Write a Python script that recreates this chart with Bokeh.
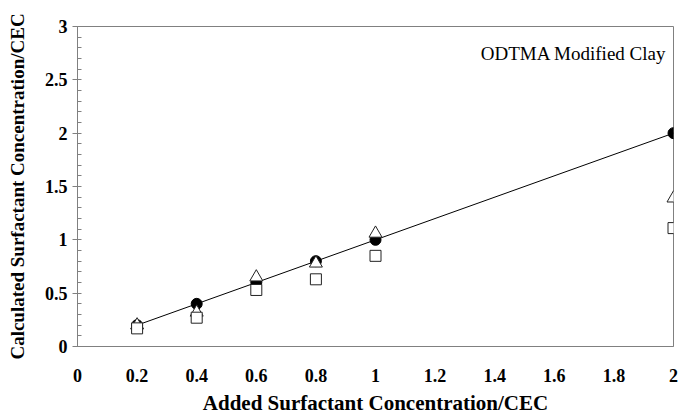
from bokeh.plotting import figure
from bokeh.models import Range1d, FixedTicker, Label
from bokeh.embed import file_html
from bokeh.resources import INLINE

# Data
x_added = [0.2, 0.4, 0.6, 0.8, 1.0, 2.0]
y_circle = [0.2, 0.4, 0.6, 0.8, 1.0, 2.0]
y_triangle = [0.2, 0.32, 0.65, 0.78, 1.06, 1.39]
y_square = [0.17, 0.27, 0.53, 0.63, 0.85, 1.11]

x_ticks = [0, 0.2, 0.4, 0.6, 0.8, 1.0, 1.2, 1.4, 1.6, 1.8, 2.0]
x_tick_labels = ["0", "0.2", "0.4", "0.6", "0.8", "1", "1.2", "1.4", "1.6", "1.8", "2"]
y_ticks = [0, 0.5, 1.0, 1.5, 2.0, 2.5, 3.0]
y_tick_labels = ["0", "0.5", "1", "1.5", "2", "2.5", "3"]
y_minor = [i / 10 for i in range(0, 31)]

FONT = "Liberation Serif"
AXIS_GRAY = "#808080"

p = figure(width=678, height=417, output_backend="svg", toolbar_location=None,
           x_range=Range1d(0, 2), y_range=Range1d(0, 3),
           min_border_left=77, min_border_right=5, min_border_top=26,
           min_border_bottom=71)

p.background_fill_color = "white"
p.border_fill_color = "white"
p.outline_line_color = AXIS_GRAY
p.outline_line_width = 1
p.xgrid.visible = False
p.ygrid.visible = False

# x axis
xa = p.xaxis[0]
xa.ticker = FixedTicker(ticks=x_ticks)
xa.major_label_overrides = {t: l for t, l in zip(x_ticks, x_tick_labels)}
xa.major_tick_in = 0
xa.major_tick_out = 0
xa.minor_tick_in = 0
xa.minor_tick_out = 0
xa.axis_line_color = AXIS_GRAY
xa.major_label_standoff = 22
xa.major_label_text_font = FONT
xa.major_label_text_font_style = "bold"
xa.major_label_text_font_size = "18px"
xa.major_label_text_color = "black"
xa.axis_label = "Added Surfactant Concentration/CEC"
xa.axis_label_text_font = FONT
xa.axis_label_text_font_style = "bold"
xa.axis_label_text_font_size = "21px"
xa.axis_label_text_color = "black"
xa.axis_label_standoff = 6

# y axis
ya = p.yaxis[0]
ya.ticker = FixedTicker(ticks=y_ticks, minor_ticks=y_minor)
ya.major_label_overrides = {t: l for t, l in zip(y_ticks, y_tick_labels)}
ya.major_tick_in = 0
ya.major_tick_out = 5
ya.minor_tick_in = 4
ya.minor_tick_out = 0
ya.axis_line_color = AXIS_GRAY
ya.major_tick_line_color = AXIS_GRAY
ya.minor_tick_line_color = AXIS_GRAY
ya.major_label_standoff = 5
ya.major_label_text_font = FONT
ya.major_label_text_font_style = "bold"
ya.major_label_text_font_size = "18px"
ya.major_label_text_color = "black"
ya.axis_label = "Calculated Surfactant Concentration/CEC"
ya.axis_label_text_font = FONT
ya.axis_label_text_font_style = "bold"
ya.axis_label_text_font_size = "19px"
ya.axis_label_text_color = "black"
ya.axis_label_standoff = 14

# fitted line y = x through the filled-circle series
p.line(x_added, y_circle, line_color="black", line_width=1)

p.scatter(x_added, y_circle, marker="circle", size=11,
          fill_color="black", line_color="black")
p.scatter(x_added, y_triangle, marker="triangle", size=13,
          fill_color="white", line_color="#222222", line_width=1)
p.scatter(x_added, y_square, marker="square", size=11,
          fill_color="white", line_color="#222222", line_width=1)

p.add_layout(Label(x=2.0, y=3.0, x_offset=-7, y_offset=-27,
                   text="ODTMA Modified Clay", text_align="right",
                   text_baseline="alphabetic", text_font=FONT,
                   text_font_size="19px", text_color="black"))

open("out.html", "w").write(file_html(p, INLINE))
